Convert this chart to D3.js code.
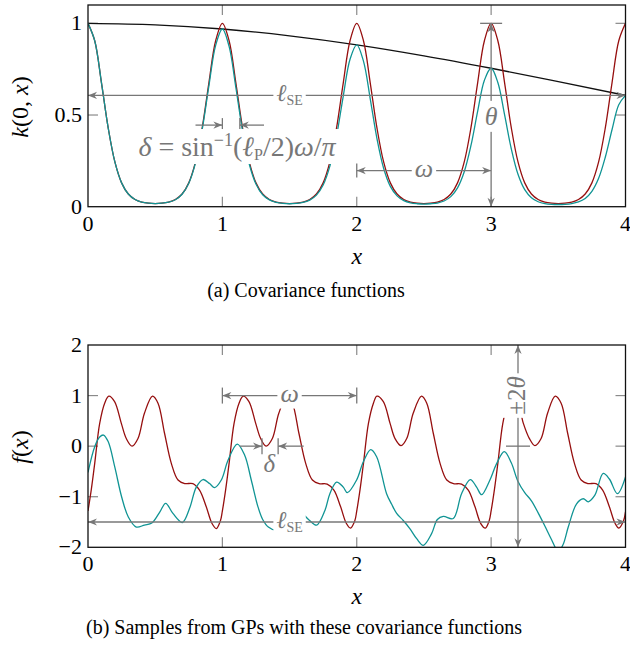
<!doctype html>
<html lang="en">
  <head>
    <meta charset="utf-8">
    <title>covariance functions and GP samples</title>
    <script src="https://d3js.org/d3.v7.min.js"></script>
    <style>
      body { margin: 0; background: #fff; }
    </style>
  </head>
  <body>
    <div id="root"></div>
  </body>
  <script>

    //data:
    // (a) covariance functions, sampled every 0.05 on [0, 4]
    const kGrid = d3.range(0, 4.0001, 0.05);
    const kPeriodic = [
      1.000, 0.905, 0.677, 0.431, 0.244, 0.130, 0.069, 0.039, 0.025, 0.019, 0.017, 0.019, 0.025, 0.039, 0.069, 0.130, 0.244, 0.431, 0.677, 0.905,
      1.000, 0.905, 0.677, 0.431, 0.244, 0.130, 0.069, 0.039, 0.025, 0.019, 0.017, 0.019, 0.025, 0.039, 0.069, 0.130, 0.244, 0.431, 0.677, 0.905,
      1.000, 0.905, 0.677, 0.431, 0.244, 0.130, 0.069, 0.039, 0.025, 0.019, 0.017, 0.019, 0.025, 0.039, 0.069, 0.130, 0.244, 0.431, 0.677, 0.905,
      1.000, 0.905, 0.677, 0.431, 0.244, 0.130, 0.069, 0.039, 0.025, 0.019, 0.017, 0.019, 0.025, 0.039, 0.069, 0.130, 0.244, 0.431, 0.677, 0.905,
      1.000
    ];
    const kProduct = [
      1.000, 0.905, 0.677, 0.431, 0.244, 0.130, 0.069, 0.039, 0.025, 0.019, 0.017, 0.019, 0.025, 0.038, 0.068, 0.128, 0.239, 0.422, 0.660, 0.880,
      0.969, 0.874, 0.652, 0.414, 0.233, 0.124, 0.065, 0.037, 0.024, 0.018, 0.016, 0.018, 0.023, 0.036, 0.063, 0.118, 0.221, 0.387, 0.605, 0.804,
      0.883, 0.794, 0.590, 0.373, 0.210, 0.111, 0.059, 0.033, 0.021, 0.016, 0.014, 0.016, 0.020, 0.031, 0.055, 0.103, 0.191, 0.334, 0.521, 0.690,
      0.755, 0.677, 0.502, 0.316, 0.177, 0.093, 0.049, 0.027, 0.017, 0.013, 0.012, 0.013, 0.017, 0.026, 0.045, 0.084, 0.155, 0.271, 0.421, 0.556,
      0.607
    ];
    const seX = [0, 0.5, 1, 1.5, 2, 2.5, 3, 3.5, 4];
    const seK = [1, 0.992, 0.969, 0.932, 0.883, 0.823, 0.755, 0.682, 0.607];

    // (b) samples
    const redX = [
      0.000, 0.025, 0.050, 0.087, 0.124, 0.155, 0.198, 0.248, 0.285, 0.328, 0.372, 0.420, 0.480, 0.521, 0.570, 0.620, 0.670, 0.720, 0.780, 0.830, 0.880, 0.923, 0.955, 0.985,
      1.000, 1.025, 1.050, 1.087, 1.124, 1.155, 1.198, 1.248, 1.285, 1.325, 1.372, 1.420, 1.480, 1.521, 1.570, 1.620, 1.670, 1.720, 1.780, 1.830, 1.880, 1.923, 1.953, 1.985,
      2.000, 2.025, 2.050, 2.087, 2.124, 2.150, 2.198, 2.248, 2.285, 2.330, 2.372, 2.420, 2.482, 2.521, 2.570, 2.620, 2.670, 2.720, 2.780, 2.830, 2.880, 2.923, 2.957, 2.985,
      3.000, 3.025, 3.050, 3.087, 3.124, 3.155, 3.198, 3.240, 3.285, 3.326, 3.372, 3.420, 3.477, 3.521, 3.570, 3.620, 3.670, 3.720, 3.780, 3.830, 3.880, 3.923, 3.950, 3.985,
      4.000
    ];
    const redY = [
      -1.28, -0.85, -0.34, 0.45, 0.85, 0.99, 0.88, 0.45, 0.15, 0.00, 0.15, 0.65, 0.99, 0.85, 0.25, -0.34, -0.67, -0.74, -0.74, -0.87, -1.20, -1.53, -1.63, -1.48,
      -1.28, -0.85, -0.34, 0.45, 0.85, 0.99, 0.88, 0.45, 0.15, 0.00, 0.15, 0.65, 0.99, 0.85, 0.25, -0.34, -0.67, -0.74, -0.75, -0.87, -1.20, -1.53, -1.62, -1.48,
      -1.28, -0.85, -0.34, 0.45, 0.85, 0.99, 0.88, 0.45, 0.15, 0.01, 0.15, 0.65, 0.99, 0.85, 0.25, -0.34, -0.67, -0.74, -0.75, -0.87, -1.20, -1.53, -1.62, -1.48,
      -1.28, -0.85, -0.34, 0.45, 0.85, 0.99, 0.88, 0.45, 0.15, 0.01, 0.15, 0.65, 0.99, 0.85, 0.25, -0.34, -0.67, -0.74, -0.74, -0.87, -1.20, -1.53, -1.62, -1.48,
      -1.30
    ];
    const tealX = [
      0.000, 0.050, 0.087, 0.115, 0.150, 0.200, 0.250, 0.300, 0.360, 0.420, 0.475, 0.535, 0.578, 0.632, 0.702, 0.756, 0.806, 0.856, 0.905, 0.942, 0.992,
      1.042, 1.111, 1.166, 1.215, 1.265, 1.300, 1.342, 1.400, 1.460, 1.520, 1.575, 1.647, 1.701, 1.763, 1.800, 1.850, 1.900, 1.930, 1.999,
      2.049, 2.104, 2.148, 2.222, 2.260, 2.297, 2.346, 2.395, 2.446, 2.495, 2.557, 2.600, 2.644, 2.718, 2.780, 2.845, 2.892, 2.929, 2.991,
      3.040, 3.098, 3.150, 3.200, 3.250, 3.300, 3.350, 3.400, 3.450, 3.500, 3.535, 3.574, 3.636, 3.686, 3.723, 3.772, 3.834, 3.880, 3.940, 4.000
    ];
    const tealY = [
      -0.52, -0.01, 0.18, 0.22, 0.09, -0.42, -1.00, -1.40, -1.60, -1.56, -1.52, -1.30, -1.13, -1.33, -1.51, -1.23, -0.81, -0.66, -0.74, -0.82, -0.67,
      -0.28, 0.04, -0.18, -0.67, -1.20, -1.45, -1.60, -1.66, -1.55, -1.38, -1.30, -1.465, -1.56, -1.27, -0.94, -0.71, -0.81, -0.92, -0.67,
      -0.31, -0.07, -0.21, -0.94, -1.15, -1.33, -1.47, -1.63, -1.83, -1.96, -1.73, -1.45, -1.39, -1.43, -0.94, -0.66, -0.81, -0.96, -0.67,
      -0.35, -0.11, -0.33, -0.70, -0.92, -1.08, -1.32, -1.58, -1.85, -2.08, -1.95, -1.60, -1.14, -1.04, -1.10, -0.97, -0.54, -0.65, -0.94, -0.61
    ];

    //ticks:
    const xTicks = [0, 1, 2, 3, 4];
    const kTicks = [0, 0.5, 1];
    const fTicks = [-2, -1, 0, 1, 2];

    //constants:
    const width = 630;
    const height = 647;
    const left = 88, right = 625.5;
    const red = '#960f0f';
    const teal = '#109494';
    const grey = '#777';
    const tickGrey = '#8a8a8a';

    const svg = d3.select('#root')
      .append('svg')
      .attr('width', width)
      .attr('height', height);

    //scales:
    const xScale = d3.scaleLinear().domain([0, 4]).range([left, right]);
    const kScale = d3.scaleLinear().domain([0, 1.1]).range([206.7, 5]);
    const fScale = d3.scaleLinear().domain([-2, 2]).range([547.3, 345]);

    function drawAxes(yScale, yTicks, yFmt) {
      const g = svg.append('g');
      const [y0, y1] = yScale.range();
      // inward ticks on all four sides
      xTicks.slice(1, -1).forEach(t => {
        g.append('line').attr('x1', xScale(t)).attr('x2', xScale(t))
          .attr('y1', y0).attr('y2', y0 - 10).attr('stroke', tickGrey).attr('stroke-width', 1.2);
        g.append('line').attr('x1', xScale(t)).attr('x2', xScale(t))
          .attr('y1', y1).attr('y2', y1 + 10).attr('stroke', tickGrey).attr('stroke-width', 1.2);
      });
      yTicks.filter(t => yScale(t) < y0 - 1 && yScale(t) > y1 + 1).forEach(t => {
        g.append('line').attr('x1', left).attr('x2', left + 10)
          .attr('y1', yScale(t)).attr('y2', yScale(t)).attr('stroke', tickGrey).attr('stroke-width', 1.2);
        g.append('line').attr('x1', right).attr('x2', right - 10)
          .attr('y1', yScale(t)).attr('y2', yScale(t)).attr('stroke', tickGrey).attr('stroke-width', 1.2);
      });
      // tick labels
      g.selectAll('text.xt').data(xTicks).enter().append('text')
        .attr('x', d => xScale(d)).attr('y', y0 + 24)
        .attr('text-anchor', 'middle').attr('font-size', 22).text(d => d);
      g.selectAll('text.yt').data(yTicks).enter().append('text')
        .attr('x', left - 6).attr('y', d => yScale(d) + 7)
        .attr('text-anchor', 'end').attr('font-size', 22).text(yFmt);
    }

    function frame(yScale) {
      const [y0, y1] = yScale.range();
      svg.append('rect').attr('x', left).attr('y', y1)
        .attr('width', right - left).attr('height', y0 - y1)
        .attr('fill', 'none').attr('stroke', '#111').attr('stroke-width', 1.3);
    }

    function clipFor(id, yScale) {
      const [y0, y1] = yScale.range();
      svg.append('clipPath').attr('id', id).append('rect')
        .attr('x', left).attr('y', y1).attr('width', right - left).attr('height', y0 - y1);
    }

    function curve(xs, ys, yScale, color, clip, c) {
      const line = d3.line()
        .x((d, i) => xScale(xs[i]))
        .y(d => yScale(d))
        .curve(c);
      svg.append('path').datum(ys)
        .attr('d', line)
        .attr('fill', 'none').attr('stroke', color).attr('stroke-width', 1.3)
        .attr('clip-path', `url(#${clip})`);
    }

    // text always in a serif face
    function txt(g) {
      return g.append('text').style('font-family', "'Liberation Serif'");
    }

    // arrow helpers
    function head(g, x, y, ang) {
      g.append('path')
        .attr('d', 'M0,0 L-9,-3.6 L-6.3,0 L-9,3.6 Z')
        .attr('transform', `translate(${x},${y}) rotate(${ang})`)
        .attr('fill', grey);
    }
    function seg(g, x1, y1, x2, y2) {
      g.append('line').attr('x1', x1).attr('y1', y1).attr('x2', x2).attr('y2', y2)
        .attr('stroke', grey).attr('stroke-width', 1.3);
    }
    function boxed(g, build) {
      const t = build(txt(g));
      const b = t.node().getBBox();
      g.insert('rect', () => t.node())
        .attr('x', b.x - 3).attr('y', b.y - 1).attr('width', b.width + 6).attr('height', b.height + 2)
        .attr('fill', '#fff');
      return t;
    }
    function ellSE(t) {
      t.attr('fill', grey).attr('font-size', 24).attr('text-anchor', 'middle');
      t.append('tspan').attr('font-style', 'italic').text('ℓ');
      t.append('tspan').attr('font-size', 14).attr('dy', 4).text('SE');
      return t;
    }

    // ---------- (a) ----------
    clipFor('clipA', kScale);
    drawAxes(kScale, kTicks, d => d);
    curve(seX, seK, kScale, '#111', 'clipA', d3.curveMonotoneX);
    curve(kGrid, kPeriodic, kScale, red, 'clipA', d3.curveCatmullRom);
    curve(kGrid, kProduct, kScale, teal, 'clipA', d3.curveCatmullRom);

    const annA = svg.append('g');
    // lSE double arrow
    {
      const y = kScale(seK[seK.length - 1]);
      seg(annA, xScale(0), y, xScale(4), y);
      head(annA, xScale(0), y, 180);
      head(annA, xScale(4), y, 0);
      boxed(annA, t => ellSE(t).attr('x', xScale(1.5)).attr('y', y + 6));
    }
    // delta
    {
      const y = kScale(0.445);
      seg(annA, xScale(0.8), y, xScale(1), y);
      head(annA, xScale(1), y, 0);
      seg(annA, xScale(1), y - 7, xScale(1), y + 7);
      seg(annA, xScale(1.31), y, xScale(1.13), y);
      head(annA, xScale(1.13), y, 180);
      seg(annA, xScale(1.13), y - 7, xScale(1.13), y + 7);
      boxed(annA, t => {
        t.attr('x', 237).attr('y', kScale(0.32) + 8).attr('fill', grey)
          .attr('font-size', 28).attr('text-anchor', 'middle');
        t.append('tspan').attr('font-style', 'italic').text('δ');
        t.append('tspan').text(' = sin');
        t.append('tspan').attr('font-size', 18).attr('dy', -10).text('−1');
        t.append('tspan').attr('dy', 10).text('(');
        t.append('tspan').attr('font-style', 'italic').text('ℓ');
        t.append('tspan').attr('font-size', 16).attr('dy', 4).text('P');
        t.append('tspan').attr('dy', -4).text('/2)');
        t.append('tspan').attr('font-style', 'italic').text('ω');
        t.append('tspan').text('/');
        t.append('tspan').attr('font-style', 'italic').text('π');
        return t;
      });
    }
    // theta
    {
      const x = xScale(3);
      seg(annA, x, kScale(1), x, kScale(0));
      head(annA, x, kScale(1), -90);
      head(annA, x, kScale(0), 90);
      seg(annA, x - 11, kScale(1), x + 11, kScale(1));
      boxed(annA, t => t.attr('x', x).attr('y', kScale(0.49) + 8).attr('fill', grey)
        .attr('font-size', 26).attr('font-style', 'italic').attr('text-anchor', 'middle').text('θ'));
    }
    // omega
    {
      const y = kScale(0.197);
      seg(annA, xScale(2), y, xScale(3), y);
      head(annA, xScale(2), y, 180);
      head(annA, xScale(3), y, 0);
      seg(annA, xScale(2), y - 7, xScale(2), y + 7);
      boxed(annA, t => t.attr('x', xScale(2.5)).attr('y', y + 6).attr('fill', grey)
        .attr('font-size', 26).attr('font-style', 'italic').attr('text-anchor', 'middle').text('ω'));
    }
    frame(kScale);

    txt(svg).attr('transform', `translate(28,107) rotate(-90)`)
      .attr('text-anchor', 'middle').attr('font-size', 24)
      .call(t => {
        t.append('tspan').attr('font-style', 'italic').text('k');
        t.append('tspan').text('(0, ');
        t.append('tspan').attr('font-style', 'italic').text('x');
        t.append('tspan').text(')');
      });
    txt(svg).attr('x', xScale(2)).attr('y', 264).attr('text-anchor', 'middle')
      .attr('font-size', 24).attr('font-style', 'italic').text('x');
    txt(svg).attr('x', 306).attr('y', 297).attr('text-anchor', 'middle')
      .attr('font-size', 20).text('(a) Covariance functions');

    // ---------- (b) ----------
    clipFor('clipB', fScale);
    drawAxes(fScale, fTicks, d => d < 0 ? '−' + Math.abs(d) : d);
    curve(redX, redY, fScale, red, 'clipB', d3.curveCatmullRom.alpha(0.5));
    curve(tealX, tealY, fScale, teal, 'clipB', d3.curveCatmullRom.alpha(0.5));

    const annB = svg.append('g');
    // omega
    {
      const y = fScale(1);
      seg(annB, xScale(1), y, xScale(2), y);
      head(annB, xScale(1), y, 180);
      head(annB, xScale(2), y, 0);
      seg(annB, xScale(1), y - 8, xScale(1), y + 8);
      seg(annB, xScale(2), y - 8, xScale(2), y + 8);
      boxed(annB, t => t.attr('x', xScale(1.5)).attr('y', y + 6).attr('fill', grey)
        .attr('font-size', 26).attr('font-style', 'italic').attr('text-anchor', 'middle').text('ω'));
    }
    // delta
    {
      const y = fScale(0);
      seg(annB, xScale(1.13), y, xScale(1.295), y);
      head(annB, xScale(1.295), y, 0);
      seg(annB, xScale(1.295), y - 8, xScale(1.295), y + 8);
      seg(annB, xScale(1.605), y, xScale(1.415), y);
      head(annB, xScale(1.415), y, 180);
      seg(annB, xScale(1.415), y - 8, xScale(1.415), y + 8);
      txt(svg).attr('x', xScale(1.35)).attr('y', y + 26).attr('fill', grey)
        .attr('font-size', 25).attr('font-style', 'italic').attr('text-anchor', 'middle').text('δ');
    }
    // lSE
    {
      const y = fScale(-1.5);
      seg(annB, xScale(0), y, xScale(4), y);
      head(annB, xScale(0), y, 180);
      head(annB, xScale(4), y, 0);
      boxed(annB, t => ellSE(t).attr('x', xScale(1.5)).attr('y', y + 6));
    }
    // +-2 theta
    {
      const x = xScale(3.2);
      seg(annB, x, fScale(2), x, fScale(-2));
      head(annB, x, fScale(2), -90);
      head(annB, x, fScale(-2), 90);
      seg(annB, x - 12, fScale(0), x + 12, fScale(0));
      const g = annB.append('g').attr('transform', `translate(${x + 7},${fScale(1.0)}) rotate(-90)`);
      boxed(g, t => {
        t.attr('x', 0).attr('y', 0).attr('fill', grey).attr('font-size', 25).attr('text-anchor', 'middle');
        t.append('tspan').text('±2');
        t.append('tspan').attr('font-style', 'italic').text('θ');
        return t;
      });
    }
    frame(fScale);

    txt(svg).attr('transform', `translate(28,447) rotate(-90)`)
      .attr('text-anchor', 'middle').attr('font-size', 24)
      .call(t => {
        t.append('tspan').attr('font-style', 'italic').text('f');
        t.append('tspan').text('(');
        t.append('tspan').attr('font-style', 'italic').text('x');
        t.append('tspan').text(')');
      });
    txt(svg).attr('x', xScale(2)).attr('y', 604).attr('text-anchor', 'middle')
      .attr('font-size', 24).attr('font-style', 'italic').text('x');
    txt(svg).attr('x', 304).attr('y', 634).attr('text-anchor', 'middle')
      .attr('font-size', 20).text('(b) Samples from GPs with these covariance functions');

    // tick labels were made in drawAxes; give them the same face
    svg.selectAll('text').style('font-family', "'Liberation Serif'");

  </script>
</html>
